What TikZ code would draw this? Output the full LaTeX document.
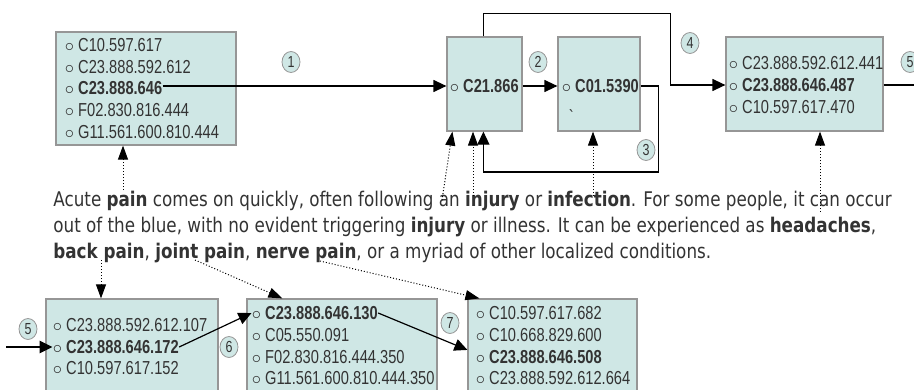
\documentclass[tikz,border=0pt]{standalone}
\usepackage{fontspec}
\setmainfont{DejaVu Sans}[FakeStretch=0.83]
\newfontfamily\boxfont{Liberation Sans}[FakeStretch=0.78]
\usetikzlibrary{shapes, arrows.meta, positioning, fit, calc}

\definecolor{boxfill}{RGB}{207,231,229}
\definecolor{boxline}{RGB}{150,150,150}
\definecolor{ink}{RGB}{51,51,51}

\tikzset{
    box/.style={draw=boxline, fill=boxfill, line width=0.6pt, inner sep=0pt},
    item/.style={anchor=west, inner sep=0pt, text=ink, font=\boxfont\fontsize{9.4}{11}\selectfont},
    num/.style={ellipse, draw=boxline, fill=boxfill, inner sep=0pt, minimum width=9pt, minimum height=10.5pt, text=ink, font=\boxfont\fontsize{8}{9}\selectfont},
    para/.style={anchor=base west, inner sep=0pt, text=ink, font=\fontsize{10.1}{13}\selectfont},
    arr/.style={-{Triangle[length=6.5pt,width=6pt]}, line width=0.6pt},
    ptr/.style={-{Triangle[length=7pt,width=5pt]}, densely dotted, line width=0.5pt}
}
\newcommand{\bul}{$\circ$\ }

\begin{document}
\begin{tikzpicture}[x=0.5pt, y=-0.5pt]
    \useasboundingbox (0,0) rectangle (914,390);

    % boxes
    \node [box, fit={(56,32) (236,145)}] (A) {};
    \node [box, fit={(447,37) (522,131)}] (B) {};
    \node [box, fit={(558,37) (640,131)}] (C) {};
    \node [box, fit={(726,37) (883,131)}] (D) {};
    \node [box, fit={(46,299) (218,400)}] (E) {};
    \node [box, fit={(247,299) (437,400)}] (F) {};
    \node [box, fit={(468,299) (637,400)}] (G) {};

    % box contents
    \node [item] (a1) at (64.5,45) {\bul C10.597.617};
    \node [item] (a2) at (64.5,67) {\bul C23.888.592.612};
    \node [item] (a3) at (64.5,88) {\bul\textbf{C23.888.646}};
    \node [item] (a4) at (64.5,110) {\bul F02.830.816.444};
    \node [item] (a5) at (64.5,132) {\bul G11.561.600.810.444};

    \node [item] (b1) at (449.5,86) {\bul\textbf{C21.866}};
    \node [item] (c1) at (561.5,86) {\bul\textbf{C01.5390}};
    \node [item, anchor=center] (mark) at (572,117) {\textasciigrave};

    \node [item] (d1) at (728.5,63) {\bul C23.888.592.612.441};
    \node [item] (d2) at (728.5,85) {\bul\textbf{C23.888.646.487}};
    \node [item] (d3) at (728.5,107) {\bul C10.597.617.470};

    \node [item] (e1) at (52.5,325) {\bul C23.888.592.612.107};
    \node [item] (e2) at (52.5,347) {\bul\textbf{C23.888.646.172}};
    \node [item] (e3) at (52.5,368) {\bul C10.597.617.152};

    \node [item] (f1) at (251.5,313) {\bul\textbf{C23.888.646.130}};
    \node [item] (f2) at (251.5,335) {\bul C05.550.091};
    \node [item] (f3) at (251.5,357) {\bul F02.830.816.444.350};
    \node [item] (f4) at (251.5,378) {\bul G11.561.600.810.444.350};

    \node [item] (g1) at (475.5,313) {\bul C10.597.617.682};
    \node [item] (g2) at (475.5,335) {\bul C10.668.829.600};
    \node [item] (g3) at (475.5,357) {\bul\textbf{C23.888.646.508}};
    \node [item] (g4) at (475.5,378) {\bul C23.888.592.612.664};

    % paragraph
    \node [para] (p1) at (53,206) {Acute \textbf{pain} comes on quickly, often following an \textbf{injury} or \textbf{infection}. For some people, it can occur};
    \node [para] (p2) at (53,232) {out of the blue, with no evident triggering \textbf{injury} or illness. It can be experienced as \textbf{headaches},};
    \node [para] (p3) at (53,258) {\textbf{back pain}, \textbf{joint pain}, \textbf{nerve pain}, or a myriad of other localized conditions.};

    % step numbers
    \foreach \t/\x/\y [count=\i] in {1/291/62, 2/538/62, 3/646/150, 4/690/43, 5/910/62, 5/28/329, 6/229/347, 7/450/323} {
        \node [num] (num\i) at (\x,\y) {\t};
    }

    % flow
    \draw [arr] (a3.east |- b1) -- (B.west |- b1);
    \draw [arr] (B.east |- b1) -- (C.west |- c1);
    \draw [arr] (C.east |- c1) -- ++(18,0) -- ++(0,86) -| ($(B.south west)+(37,0)$);
    \draw [arr] ($(B.north west)+(37,0)$) -- ++(0,-23) -| ($(D.west |- d2)+(-55,0)$) -- (D.west |- d2);
    \coordinate (outR) at (920,85);
    \draw [line width=1.4pt] (D.east |- d2) -- (outR);
    \coordinate (inL) at (6,347);
    \draw [arr, line width=1.4pt] (inL) -- (e2.west);
    \draw [arr] (e2.east) -- (f1.west);
    \draw [arr] (f1.east) -- (g3.north -| G.west);

    % words pointing at codes
    \coordinate (wPain) at (123,190);
    \coordinate (wAn) at (442,200);
    \coordinate (wInjury) at (473,196);
    \coordinate (wInfection) at (593,196);
    \coordinate (wCan) at (820,212);
    \coordinate (wBack) at (101,260);
    \coordinate (wJoint) at (195,260);
    \coordinate (wNerve) at (320,261);
    \draw [ptr] (wPain) -- (wPain |- A.south);
    \draw [ptr] (wAn) -- ($(B.south west)+(6,0)$);
    \draw [ptr] (wInjury) -- (wInjury |- B.south);
    \draw [ptr] (wInfection) -- (wInfection |- C.south);
    \draw [ptr] (wCan) -- (wCan |- D.south);
    \draw [ptr] (wBack) -- (wBack |- E.north);
    \draw [ptr] (wJoint) -- ($(F.north west)+(36,0)$);
    \draw [ptr] (wNerve) -- ($(G.north west)+(12,0)$);
\end{tikzpicture}
\end{document}
